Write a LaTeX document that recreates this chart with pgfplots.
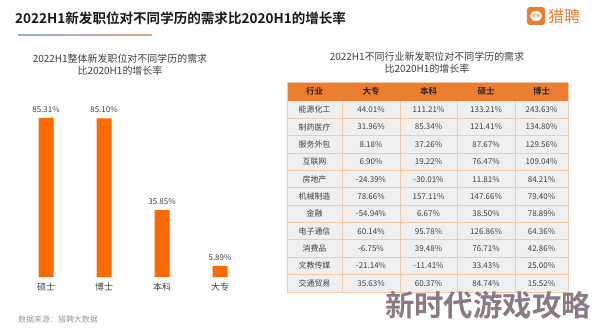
\documentclass[border=0pt]{standalone}
\usepackage{fontspec}
\setmainfont{Noto Sans CJK SC}[BoldFont={Noto Sans CJK SC Bold}]
\usepackage{pgfplots}
\pgfplotsset{compat=1.18}
\definecolor{barorange}{HTML}{FF6A00}
\definecolor{hdr}{HTML}{ED7D31}
\definecolor{cellbg}{HTML}{EFEFEF}
\definecolor{cellline}{HTML}{F6C9A8}
\definecolor{txt}{HTML}{404040}
\definecolor{lblue}{HTML}{8FB4D8}
\definecolor{lorange}{HTML}{F0A27A}
\definecolor{wm}{HTML}{8A7A84}
\begin{document}
\begin{tikzpicture}[x=1bp,y=1bp]
\useasboundingbox (0,0) rectangle (594,331);
\fill[white] (0,0) rectangle (594,331);
% main title
\node[anchor=west,inner sep=0pt,text=black!90] at (15,313) {\fontsize{13.6}{16}\selectfont\bfseries 2022H1新发职位对不同学历的需求比2020H1的增长率};
\shade[left color=lblue,right color=lorange] (18,295.6) rectangle (152,296.6);
% logo
\fill[hdr,rounded corners=3bp] (527,306) rectangle (545,324);
\fill[white] (536,315) ellipse (6 and 5);
\node[inner sep=0pt,text=hdr] at (536,315) {\fontsize{4}{4}\selectfont 猎聘};
\node[anchor=west,inner sep=0pt,text=hdr] at (548,315) {\fontsize{16}{18}\selectfont 猎聘};
% left chart title
\node[align=center,inner sep=0pt,text=txt] at (120,266) {\fontsize{10}{13}\selectfont 2022H1整体新发职位对不同学历的需求\\比2020H1的增长率};
% bar chart
\begin{axis}[at={(17bp,54bp)},anchor=south west,width=232bp,height=186.4bp,scale only axis,
  xmin=-0.5,xmax=3.5,ymin=0,ymax=100,
  axis line style={draw=none},ytick=\empty,
  xtick=data,xticklabels={硕士,博士,本科,大专},major tick length=0pt,
  xticklabel style={font=\fontsize{9}{10}\selectfont,text=txt,yshift=-2bp},
  clip=false]
\addplot[ybar,bar width=15bp,fill=barorange,draw=none,
  point meta=explicit symbolic,nodes near coords,
  every node near coord/.style={font=\fontsize{8}{9}\selectfont,text=txt,yshift=2bp}]
  table[meta=label] {
x y label
0 85.31 85.31\%
1 85.10 85.10\%
2 35.85 35.85\%
3 5.89 5.89\%
};
\end{axis}
% footer
\node[anchor=west,inner sep=0pt,text=gray!80] at (18,12) {\fontsize{8}{9}\selectfont 数据来源：猎聘大数据};
% right table title
\node[align=center,inner sep=0pt,text=txt] at (427,268.5) {\fontsize{10}{13}\selectfont 2022H1不同行业新发职位对不同学历的需求\\比2020H1的增长率};
% table
\def\xa{287}\def\xb{342}\def\xc{400}\def\xd{457}\def\xe{515}\def\xf{568}
\fill[hdr] (\xa,230) rectangle (\xf,249);
\fill[cellbg] (\xa,39) rectangle (\xf,230);
\foreach \cx/\t in {314.5/行业,371/大专,428.5/本科,486/硕士,541.5/博士}
  \node[inner sep=0pt,text=black!85] at (\cx,239.5) {\fontsize{8.5}{9}\selectfont\bfseries \t};
\foreach \i/\a/\b/\c/\d/\e in {
 0/能源化工/44.01\%/111.21\%/133.21\%/243.63\%,
 1/制药医疗/31.96\%/85.34\%/121.41\%/134.80\%,
 2/服务外包/8.18\%/37.26\%/87.67\%/129.56\%,
 3/互联网/6.90\%/19.22\%/76.47\%/109.04\%,
 4/房地产/-24.39\%/-30.01\%/11.81\%/84.21\%,
 5/机械制造/78.66\%/157.11\%/147.66\%/79.40\%,
 6/金融/-54.94\%/6.67\%/38.50\%/78.89\%,
 7/电子通信/60.14\%/95.78\%/126.86\%/64.36\%,
 8/消费品/-6.75\%/39.48\%/76.71\%/42.86\%,
 9/文教传媒/-21.14\%/-11.41\%/33.43\%/25.00\%,
 10/交通贸易/35.63\%/60.37\%/84.74\%/15.52\%}{
  \pgfmathsetmacro\yy{230-17.36*\i-8.68}
  \node[inner sep=0pt,text=txt] at (314.5,\yy) {\fontsize{8}{9}\selectfont \a};
  \node[inner sep=0pt,text=txt] at (371,\yy) {\fontsize{8}{9}\selectfont \b};
  \node[inner sep=0pt,text=txt] at (428.5,\yy) {\fontsize{8}{9}\selectfont \c};
  \node[inner sep=0pt,text=txt] at (486,\yy) {\fontsize{8}{9}\selectfont \d};
  \node[inner sep=0pt,text=txt] at (541.5,\yy) {\fontsize{8}{9}\selectfont \e};
}
\foreach \i in {1,...,10} \draw[cellline,line width=0.8bp] (\xa,230-17.36*\i) -- (\xf,230-17.36*\i);
\foreach \xx in {\xb,\xc,\xd,\xe} \draw[cellline,line width=0.8bp] (\xx,39) -- (\xx,230);
\draw[cellline,line width=1bp] (\xa,39) rectangle (\xf,249);
% watermark
\node[anchor=east,inner sep=0pt,text=wm] at (591,26) {\fontsize{29.5}{30}\selectfont\bfseries 新时代游戏攻略};
\end{tikzpicture}
\end{document}
